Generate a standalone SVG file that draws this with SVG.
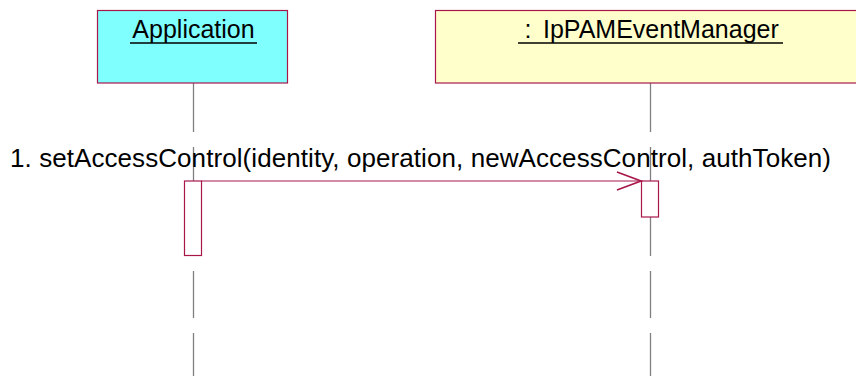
<svg xmlns="http://www.w3.org/2000/svg" width="856" height="376" viewBox="0 0 856 376">
<style>
.obj{stroke:#A8174A;stroke-width:1.2}
.hdr{font-family:"Liberation Sans",Arial,sans-serif;font-size:25px;fill:#000}
.ul{stroke:#000;stroke-width:1.6}
.life{stroke:#808080;stroke-width:1.3;fill:none;stroke-dasharray:49 15 47 15 47 15 47 15 47 15}
.act{fill:#fff;stroke:#A8174A;stroke-width:1.2}
.msg{stroke:#A8174A;stroke-width:1.2;fill:none}
.head{stroke:#A8174A;stroke-width:1.7;fill:none}
.lbl{font-family:"Liberation Sans",Arial,sans-serif;font-size:26px;fill:#000}
</style>
<rect width="856" height="376" fill="#fff"/>
<g id="lifelines">
<line class="life" x1="193.5" y1="83" x2="193.5" y2="376"/>
<line class="life" x1="650.5" y1="83" x2="650.5" y2="376"/>
</g>
<g id="application">
<rect class="obj" x="97.5" y="10.5" width="190" height="72.5" fill="#80FFFF"/>
<text class="hdr" x="193.5" y="38" text-anchor="middle">Application</text>
<line class="ul" x1="130" y1="43" x2="257" y2="43"/>
</g>
<g id="eventmanager">
<rect class="obj" x="435.5" y="10.5" width="440" height="72.5" fill="#FFFFCC"/>
<text class="hdr" x="524.5" y="38">:<tspan x="543">IpPAMEventManager</tspan></text>
<line class="ul" x1="518" y1="43" x2="783" y2="43"/>
</g>
<g id="activations">
<rect class="act" x="184.5" y="181" width="17" height="74.5"/>
<rect class="act" x="641.5" y="181" width="17" height="36"/>
</g>
<g id="connectors">
<line class="msg" x1="201.5" y1="181" x2="641" y2="181"/>
<polyline class="head" points="617,172 641,181 617,190"/>
</g>
<text class="lbl" x="10" y="167" textLength="821" lengthAdjust="spacing">1. setAccessControl(identity, operation, newAccessControl, authToken)</text>
</svg>
